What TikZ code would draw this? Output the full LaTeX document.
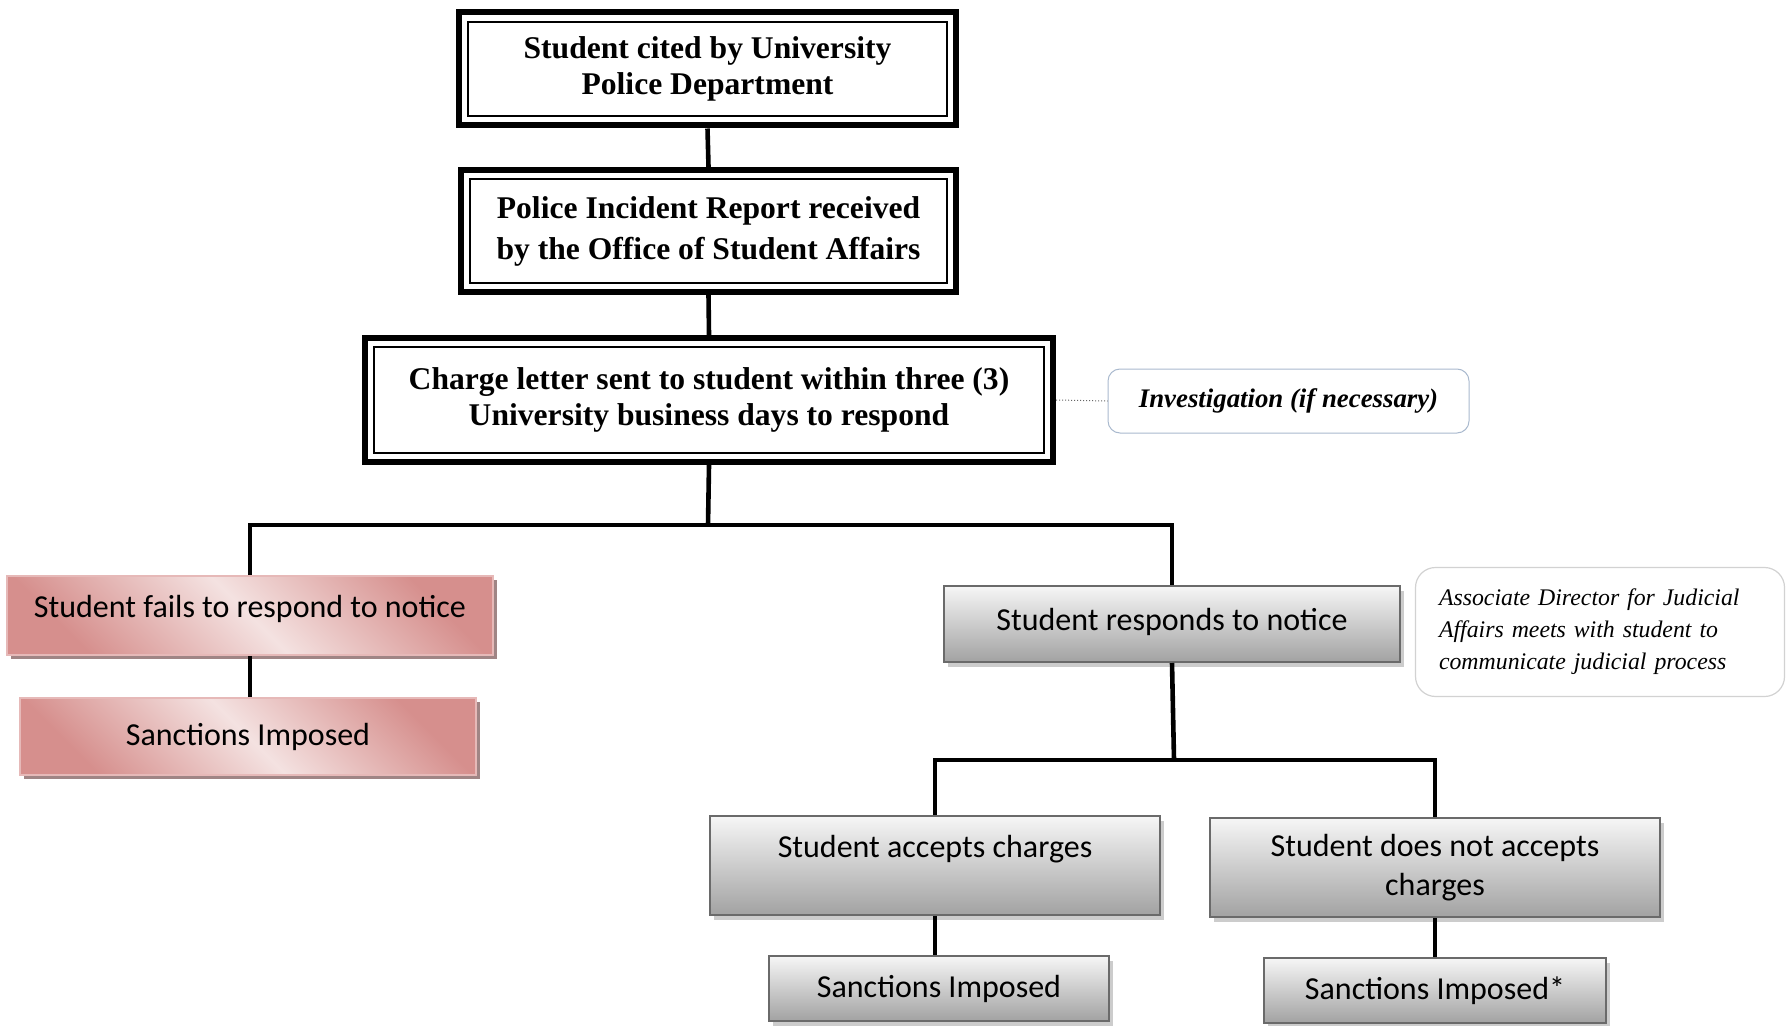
\documentclass[tikz,border=0pt]{standalone}
\usepackage{fontspec}
\setmainfont{Liberation Serif}
\newfontfamily\calib{Carlito}
\usetikzlibrary{shadows}
\definecolor{pinkD}{HTML}{D68F8D}
\definecolor{pinkL}{HTML}{F4E2E1}
\definecolor{pinkB}{HTML}{E6B9B8}
\definecolor{pinkS}{HTML}{A08585}
\definecolor{grayT}{HTML}{F6F6F6}
\definecolor{grayB}{HTML}{A2A2A2}
\definecolor{grayE}{HTML}{6A6A6A}
\definecolor{noteB}{HTML}{A9B9CE}
\definecolor{noteG}{HTML}{D2D2D2}
\begin{document}
\begin{tikzpicture}[x=0.5pt,y=-0.5pt,
  dbox/.style={draw=black, line width=3pt, fill=white, inner sep=0pt,
    font=\bfseries\fontsize{15.8}{18.2}\selectfont, align=center,
    path picture={\draw[line width=0.9pt]
      ([shift={(4.6pt,-4.6pt)}]path picture bounding box.north west) rectangle
      ([shift={(-4.6pt,4.6pt)}]path picture bounding box.south east);}},
  gbox/.style={draw=grayE, line width=1pt, top color=grayT, bottom color=grayB,
    inner sep=0pt, font=\calib\fontsize{16}{19.5}\selectfont, align=center,
    drop shadow={shadow xshift=1.8pt, shadow yshift=-2.4pt, fill=black!20, opacity=1}},
  pbox/.style={draw=pinkB, line width=0.8pt, top color=pinkD, bottom color=pinkD,
    middle color=pinkL, shading angle=-45, inner sep=0pt,
    font=\calib\fontsize{16}{19.5}\selectfont, align=center,
    drop shadow={shadow xshift=1.8pt, shadow yshift=-2.2pt, fill=pinkS, opacity=1}},
  note/.style={draw=noteB, line width=0.5pt, rounded corners=6pt, fill=white, inner sep=0pt},
  conn/.style={line width=2.3pt, black},
]
\useasboundingbox (0,0) rectangle (1786,1026);

\node[dbox, minimum width=248.5pt, minimum height=56.5pt] (b1) at (707.5,69)
  {Student cited by University\\Police Department};
\node[dbox, minimum width=247.5pt, minimum height=61pt, font=\bfseries\fontsize{15.8}{20.5}\selectfont] (b2) at (708.5,231)
  {Police Incident Report received\\by the Office of Student Affairs};
\node[dbox, minimum width=344pt, minimum height=62pt] (b3) at (709,400)
  {Charge letter sent to student within three (3)\\University business days to respond};
\node[note, minimum width=180.5pt, minimum height=32pt,
  font=\bfseries\itshape\fontsize{13.4}{16}\selectfont] (inv) at (1288.5,401)
  {Investigation (if necessary)};

\node[pbox, minimum width=243pt, minimum height=39.5pt] (fail) at (250,615.5)
  {\raisebox{3.5pt}[\height][\depth]{Student fails to respond to notice}};
\node[pbox, minimum width=228pt, minimum height=38.5pt] (sancL) at (248,736.5)
  {Sanctions Imposed};

\node[gbox, minimum width=228pt, minimum height=38pt] (resp) at (1172,624)
  {\raisebox{1pt}[\height][\depth]{Student responds to notice}};
\node[draw=noteG, line width=0.6pt, rounded corners=10pt, fill=white, inner sep=0pt,
  minimum width=184.5pt, minimum height=64.5pt, text width=161pt, align=left,
  font=\itshape\fontsize{11.9}{16}\selectfont] (assoc) at (1600,632)
  {\hyphenpenalty=10000 Associate Director for Judicial\\Affairs meets with student to\\communicate judicial process};

\node[gbox, minimum width=225pt, minimum height=49.5pt] (acc) at (935,865.5)
  {\raisebox{8pt}[\height][\depth]{Student accepts charges}};
\node[gbox, minimum width=225pt, minimum height=49.5pt] (nacc) at (1435,867.5)
  {Student does not accepts\\charges};
\node[gbox, minimum width=170pt, minimum height=32.5pt] (sancM) at (939,988.5)
  {Sanctions Imposed};
\node[gbox, minimum width=171pt, minimum height=32.5pt] (sancR) at (1435,990.5)
  {Sanctions Imposed*};

\coordinate (bus) at (708,525);
\coordinate (bus2) at (1174,760);

\draw[conn] (b1.south) -- (b2.north);
\draw[conn] (b2.south) -- (b3.north);
\draw[conn] (b3.south) -- (bus);
\draw[conn] (fail.north) |- (bus) -| (resp.north);
\draw[conn] (fail.south) -- (fail.south |- sancL.north);
\draw[conn] (resp.south) -- (bus2);
\draw[conn] (acc.north) |- (bus2) -| (nacc.north);
\draw[conn] (acc.south) -- (acc.south |- sancM.north);
\draw[conn] (nacc.south) -- (nacc.south |- sancR.north);
\draw[densely dotted, line width=0.5pt, black!60] (b3.east) -- (inv.west);
\end{tikzpicture}
\end{document}
